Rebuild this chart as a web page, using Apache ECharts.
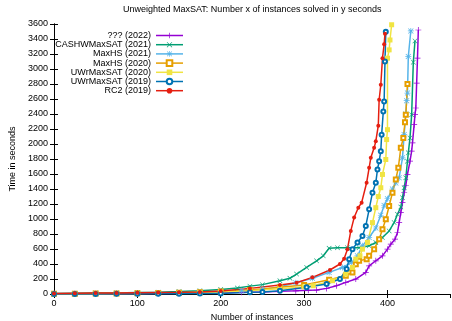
<!DOCTYPE html>
<html>
<head>
<meta charset="utf-8">
<script src="https://cdn.jsdelivr.net/npm/echarts@6/dist/echarts.min.js"></script>
<style>
  html, body { margin: 0; padding: 0; background: #fff; }
  #chart { width: 452px; height: 321px; }
</style>
</head>
<body>
<div id="chart"></div>
<script>
// solver names, in legend order (drawn bottom to top)
const solverNames = ['??? (2022)', 'CASHWMaxSAT (2021)', 'MaxHS (2021)', 'MaxHS (2020)',
  'UWrMaxSAT (2020)', 'UWrMaxSAT (2019)', 'RC2 (2019)'];
const solverColors = ['#9400d3', '#009e73', '#56b4e9', '#e69f00', '#f0e442', '#0072b2', '#e51e10'];

const xTicks = [0, 100, 200, 300, 400];
const yTicks = [0, 200, 400, 600, 800, 1000, 1200, 1400, 1600, 1800, 2000, 2200, 2400, 2600, 2800, 3000, 3200, 3400, 3600];

// [instances solved, seconds]
const unknown2022 = [[0, 2], [25, 3], [50, 4], [75, 5], [100, 6], [125, 8], [150, 10], [175, 13], [200, 17],
  [225, 22], [250, 28], [270, 35], [290, 43], [305, 50], [315, 53], [327, 75], [339, 110], [350, 155],
  [362, 199], [374, 288], [378, 376], [386, 443], [394, 509], [400, 598], [404, 664], [409, 731],
  [412, 820], [414, 952], [416, 1085], [418, 1218], [420, 1350], [422, 1450], [424, 1594], [427, 1771],
  [429, 1904], [430, 2015], [432, 2258], [433, 2391], [434, 2480], [435, 2812], [436, 3144], [437, 3520]];
const cashw2021 = [[0, 8], [25, 10], [50, 12], [75, 15], [100, 20], [125, 25], [150, 32], [175, 44],
  [200, 60], [220, 80], [235, 105], [250, 125], [271, 177], [283, 210], [291, 266], [303, 354],
  [315, 443], [323, 509], [330, 610], [340, 618], [352, 618], [366, 618], [378, 642], [386, 687],
  [394, 753], [402, 841], [408, 952], [412, 1063], [416, 1160], [418, 1284], [420, 1417], [422, 1550],
  [424, 1771], [425, 1882], [427, 2081], [429, 2391], [431, 3091], [433, 3374]];
const maxhs2021 = [[0, 3], [25, 4], [50, 5], [75, 6], [100, 8], [125, 11], [150, 15], [175, 21],
  [200, 30], [225, 42], [250, 60], [271, 95], [290, 150], [310, 210], [330, 288], [346, 354],
  [357, 421], [364, 509], [370, 642], [378, 753], [386, 880], [392, 1050], [396, 1180], [400, 1270],
  [406, 1400], [410, 1480], [414, 1550], [418, 1816], [420, 2125], [422, 2400], [423, 2577],
  [424, 2679], [425, 3166], [428, 3507]];
const maxhs2020 = [[0, 3], [25, 4], [50, 6], [75, 8], [100, 10], [125, 14], [150, 18], [175, 25],
  [200, 35], [235, 53], [271, 89], [300, 120], [330, 190], [350, 243], [358, 288], [362, 398],
  [366, 443], [375, 465], [378, 509], [384, 598], [390, 731], [394, 863], [398, 996], [402, 1173],
  [406, 1351], [410, 1528], [413, 1683], [416, 1949], [419, 2081], [421, 2290], [422, 2391], [424, 2800]];
const uwr2020 = [[0, 2], [25, 3], [50, 4], [75, 6], [100, 8], [125, 11], [150, 15], [175, 21],
  [200, 28], [235, 45], [271, 70], [300, 95], [311, 110], [334, 177], [350, 266], [358, 354],
  [362, 465], [367, 509], [370, 598], [376, 687], [382, 952], [386, 1151], [389, 1300], [392, 1417],
  [394, 1594], [398, 1793], [399, 2059], [400, 2191], [400, 3144], [402, 3255], [403, 3387], [405, 3590]];
const uwr2019 = [[0, 0], [25, 1], [50, 1], [75, 2], [100, 2], [125, 3], [150, 4], [175, 6], [200, 8],
  [235, 22], [250, 28], [271, 44], [303, 89], [327, 133], [343, 199], [351, 332], [354, 465],
  [358, 598], [364, 687], [370, 774], [374, 907], [378, 1129], [382, 1351], [386, 1484], [388, 1660],
  [390, 1771], [392, 1904], [393, 2125], [395, 2435], [396, 2568], [397, 3100], [398, 3498]];
const rc2019 = [[0, 8], [25, 10], [50, 12], [75, 14], [100, 16], [125, 19], [150, 22], [175, 28],
  [200, 40], [235, 75], [271, 120], [291, 150], [310, 222], [331, 320], [343, 400], [348, 470],
  [352, 598], [356, 841], [360, 1019], [365, 1150], [369, 1218], [375, 1484], [378, 1683], [380, 1816],
  [384, 1949], [386, 2037], [389, 2245], [390, 2590], [392, 2790], [394, 3144], [396, 3330], [397, 3470]];

const solverData = [unknown2022, cashw2021, maxhs2021, maxhs2020, uwr2020, uwr2019, rc2019];

// gnuplot-like point types
const plusPath = 'path://M0,4.4H10V5.6H0Z M4.4,0H5.6V10H4.4Z';
const crossPath = 'path://M0.8,0L5,4.2L9.2,0L10,0.8L5.8,5L10,9.2L9.2,10L5,5.8L0.8,10L0,9.2L4.2,5L0,0.8Z';
const starPath = 'path://M0,4.4H10V5.6H0Z M4.4,0H5.6V10H4.4Z M1.2,0.4L5,4.2L8.8,0.4L9.6,1.2L5.8,5L9.6,8.8L8.8,9.6L5,5.8L1.2,9.6L0.4,8.8L4.2,5L0.4,1.2Z';
const solverSymbols = [plusPath, crossPath, starPath, 'emptyRect', 'rect', 'emptyCircle', 'circle'];
const solverSymbolSizes = [6, 5, 6, 4, 5, 4, 4];
const solverBorders = [0, 0, 0, 1, 0, 1, 0];

const chart = echarts.init(document.getElementById('chart'));

const txt = { fontFamily: 'Liberation Sans, Arial, sans-serif', fontSize: 9, color: '#000' };

const series = solverNames.map((name, i) => ({
  name: name,
  type: 'line',
  data: solverData[i],
  symbol: solverSymbols[i],
  symbolSize: solverSymbolSizes[i],
  showAllSymbol: true,
  animation: false,
  lineStyle: { width: 1.5, color: solverColors[i] },
  itemStyle: { color: solverColors[i], borderColor: solverColors[i], borderWidth: solverBorders[i] },
  emphasis: { disabled: true }
}));

chart.setOption({
  animation: false,
  backgroundColor: '#fff',
  textStyle: { fontFamily: txt.fontFamily },
  title: {
    text: 'Unweighted MaxSAT: Number x of instances solved in y seconds',
    left: 123,
    top: 5,
    padding: 0,
    textStyle: { fontFamily: txt.fontFamily, fontSize: 9, fontWeight: 'normal', color: '#000' }
  },
  legend: {
    data: solverNames,
    orient: 'vertical',
    align: 'right',
    left: 51,
    top: 31,
    padding: 0,
    itemGap: 0.2,
    itemWidth: 27,
    itemHeight: 7,
    lineStyle: { width: 1.5 },
    textStyle: { fontFamily: txt.fontFamily, fontSize: 9, color: '#000', width: 100, align: 'right', lineHeight: 9 }
  },
  grid: { left: 54, right: 2, top: 24, bottom: 27, outerBoundsMode: 'none' },
  xAxis: [{
    type: 'value',
    min: xTicks[0],
    max: 475,
    interval: 100,
    name: 'Number of instances',
    nameLocation: 'middle',
    nameGap: 18,
    nameTextStyle: txt,
    axisLine: { lineStyle: { color: '#000', width: 1 } },
    axisTick: { inside: true, length: 4, lineStyle: { color: '#000' } },
    axisLabel: Object.assign({ margin: 5, showMaxLabel: false }, txt),
    splitLine: { show: false }
  }, {
    type: 'value',
    position: 'top',
    min: xTicks[0],
    max: 475,
    interval: 100,
    axisLine: { lineStyle: { color: '#000', width: 1 } },
    axisTick: { inside: true, length: 4, lineStyle: { color: '#000' } },
    axisLabel: { show: false },
    splitLine: { show: false }
  }],
  yAxis: [{
    type: 'value',
    min: yTicks[0],
    max: yTicks[yTicks.length - 1],
    interval: 200,
    name: 'Time in seconds',
    nameLocation: 'middle',
    nameGap: 37,
    nameTextStyle: txt,
    axisLine: { lineStyle: { color: '#000', width: 1 } },
    axisTick: { inside: true, length: 4, lineStyle: { color: '#000' } },
    axisLabel: Object.assign({ margin: 6, formatter: v => String(v) }, txt),
    splitLine: { show: false }
  }, {
    type: 'value',
    position: 'right',
    min: yTicks[0],
    max: yTicks[yTicks.length - 1],
    interval: 200,
    axisLine: { show: true, lineStyle: { color: '#000', width: 1 } },
    axisTick: { show: true, inside: true, length: 4, lineStyle: { color: '#000' } },
    axisLabel: { show: false },
    splitLine: { show: false }
  }],
  series: series
});
</script>
</body>
</html>
